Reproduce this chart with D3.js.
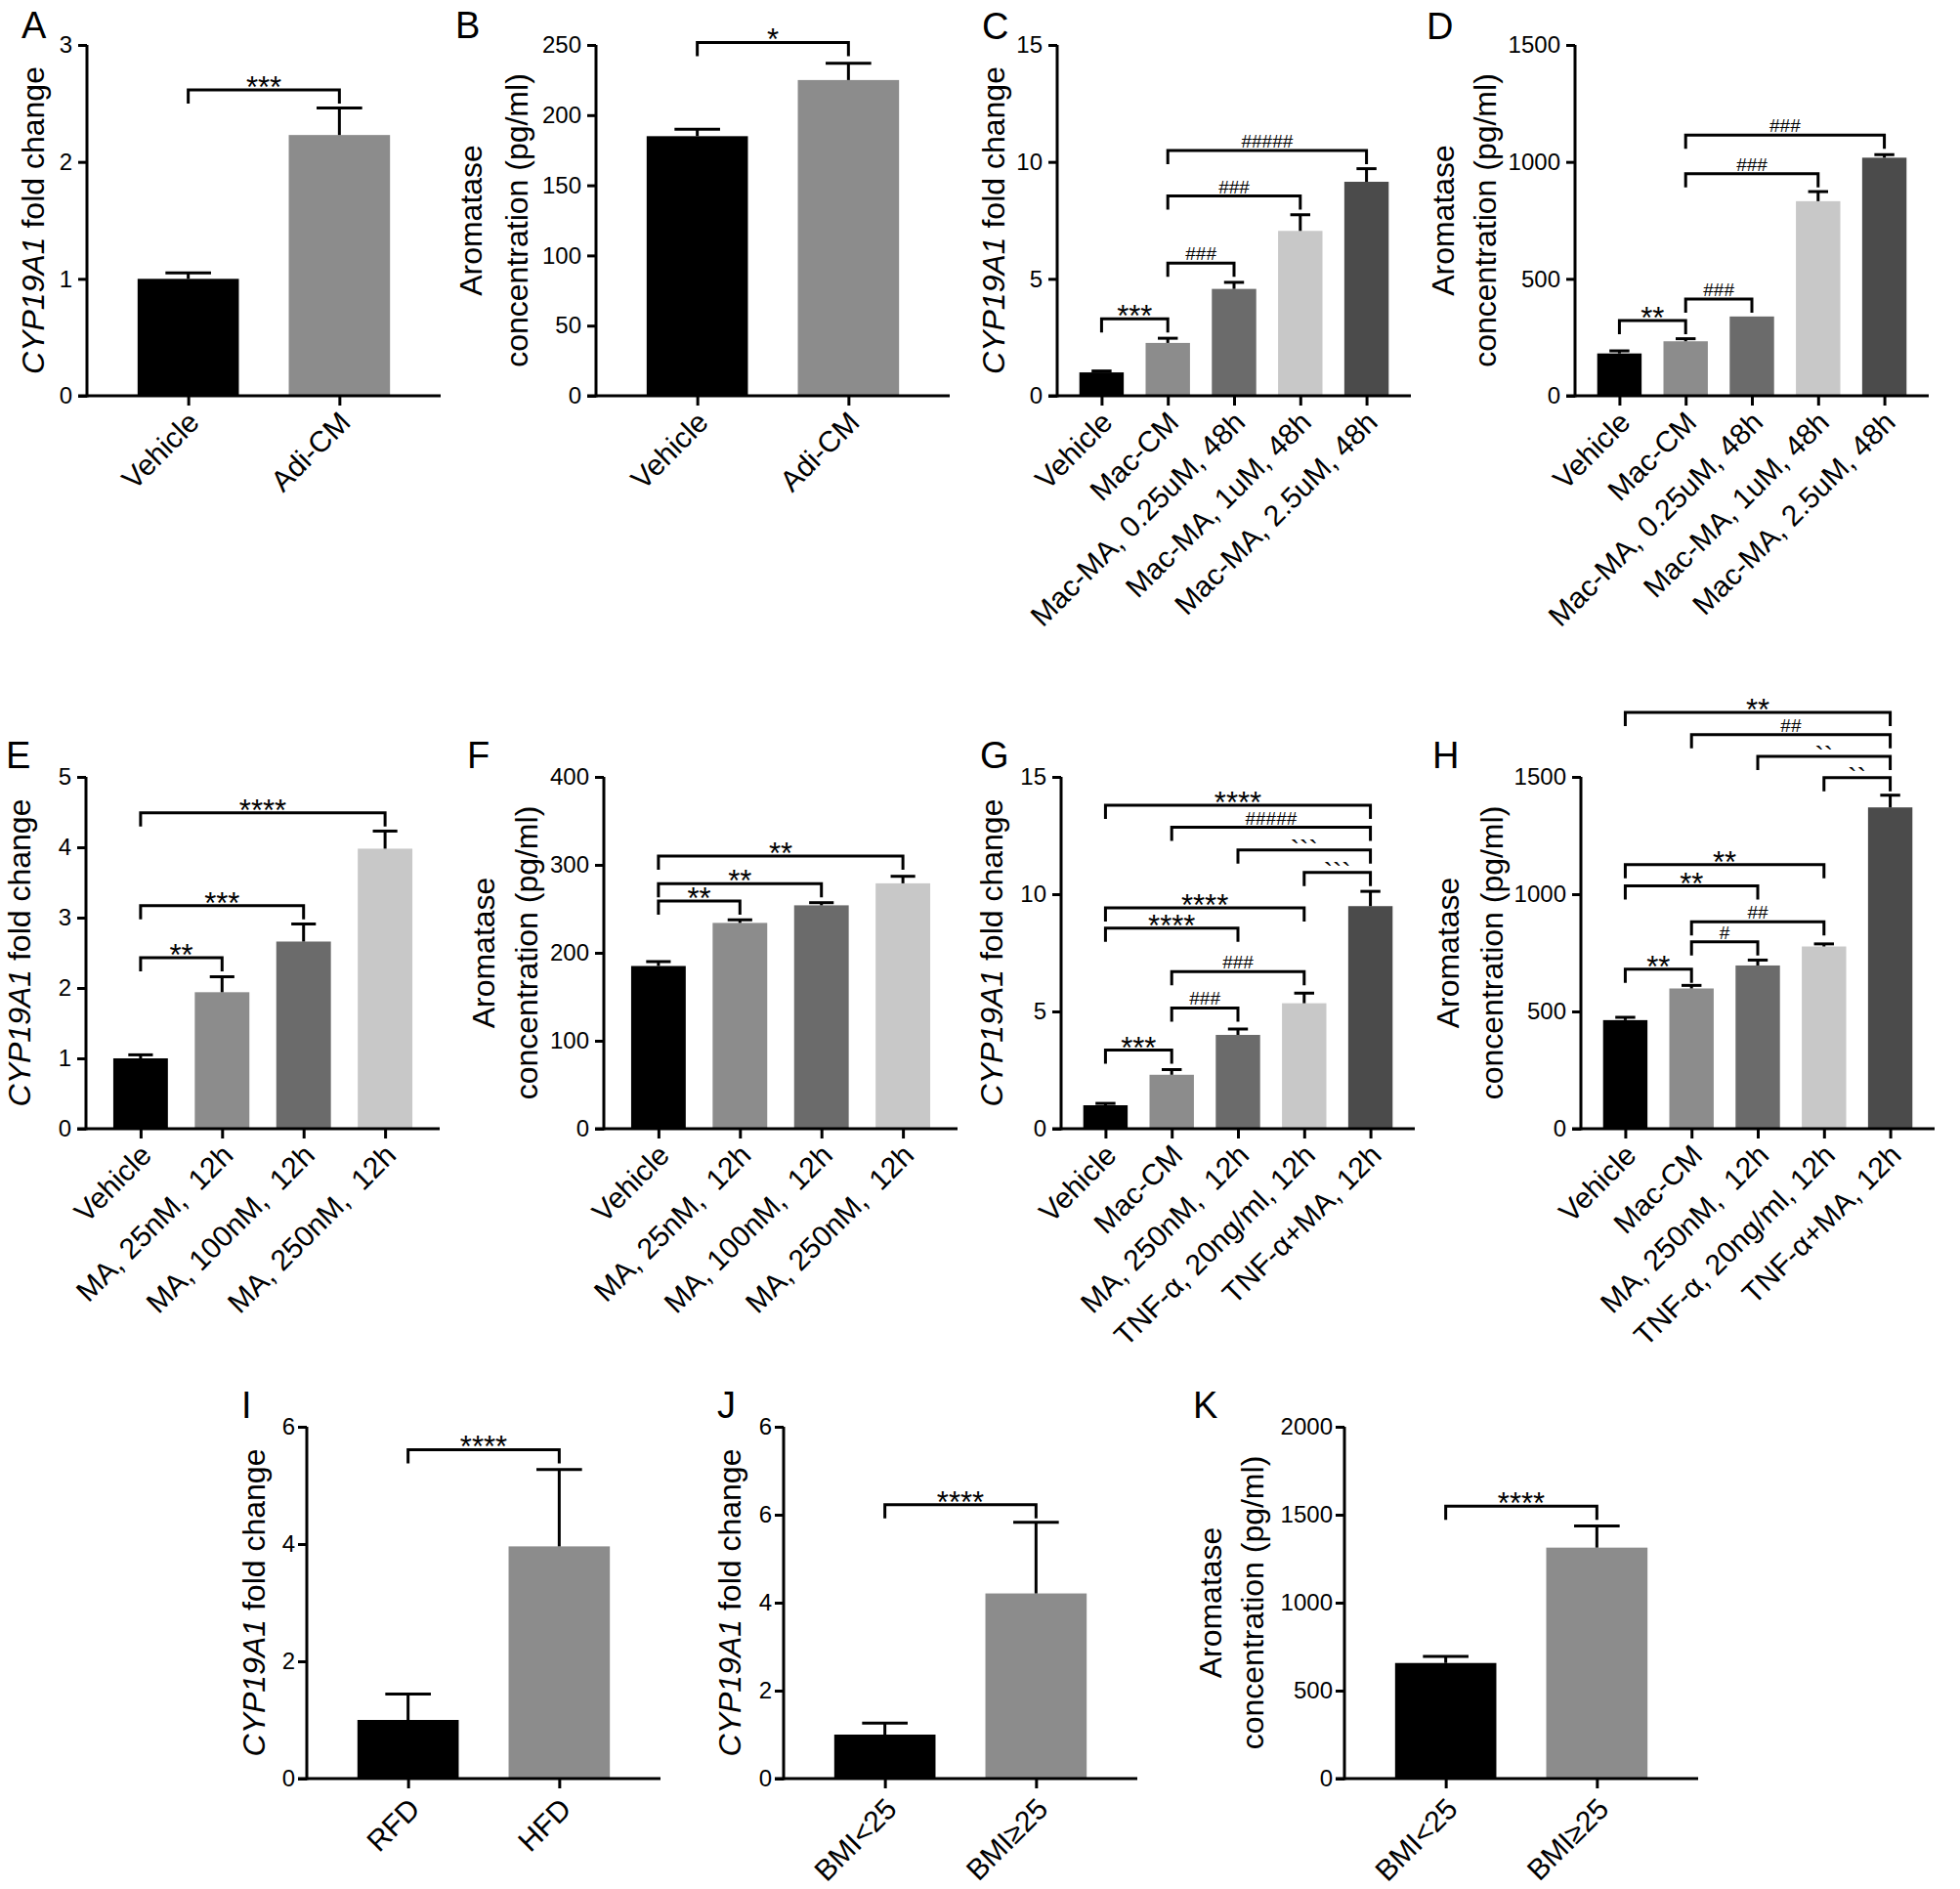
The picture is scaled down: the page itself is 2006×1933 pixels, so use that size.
<!DOCTYPE html>
<html>
<head>
<meta charset="utf-8">
<script src="https://cdn.jsdelivr.net/npm/d3@7"></script>
<style>
  body { margin: 0; background: #fff; }
  text { font-family: "Liberation Sans", Arial, sans-serif; }
</style>
</head>
<body>
<svg id="fig" width="2006" height="1933"></svg>
<script>
// ---- data ----
const catsAB = ["Vehicle", "Adi-CM"]
const valsA = [1.0, 2.23], sdA = [0.05, 0.23]
const valsB = [185, 225], sdB = [5, 12]

const catsCD = ["Vehicle", "Mac-CM", "Mac-MA, 0.25uM, 48h", "Mac-MA, 1uM, 48h", "Mac-MA, 2.5uM, 48h"]
const valsC = [1.0, 2.26, 4.57, 7.05, 9.15], sdC = [0.06, 0.2, 0.28, 0.69, 0.56]
const valsD = [181, 233, 339, 832, 1018], sdD = [11, 11, 0, 41, 13]

const catsEF = ["Vehicle", "MA, 25nM,  12h", "MA, 100nM,  12h", "MA, 250nM,  12h"]
const valsE = [1.0, 1.94, 2.66, 3.98], sdE = [0.05, 0.22, 0.25, 0.25]
const valsF = [185, 234, 254, 279], sdF = [5, 3.5, 3, 8]

const catsGH = ["Vehicle", "Mac-CM", "MA, 250nM,  12h", "TNF-α, 20ng/ml, 12h", "TNF-α+MA, 12h"]
const valsG = [1.0, 2.3, 4.0, 5.35, 9.49], sdG = [0.08, 0.22, 0.25, 0.43, 0.63]
const valsH = [463, 598, 696, 777, 1370], sdH = [12, 13, 23, 11, 52]

const catsI = ["RFD", "HFD"]
const valsI = [1.0, 3.96], sdI = [0.44, 1.31]
const catsJK = ["BMI<25", "BMI≥25"]
const valsJ = [1.0, 4.21], sdJ = [0.26, 1.62]
const valsK = [657, 1313], sdK = [38, 123]

// tick values and labels
const ticksA = [0, 1, 2, 3]
const ticksB = [0, 50, 100, 150, 200, 250]
const ticksC = [0, 5, 10, 15]
const ticksD = [0, 500, 1000, 1500]
const ticksE = [0, 1, 2, 3, 4, 5]
const ticksF = [0, 100, 200, 300, 400]
const ticksI = [0, 2, 4, 6]
const ticksJ = [0, 2, 4, 6, 8]
const tickLabelsJ = ["0", "2", "4", "6", "6"]
const ticksK = [0, 500, 1000, 1500, 2000]

// significance brackets: [from, to, height, label]
const brA = [[0, 1, 2.615, "***"]]
const brB = [[0, 1, 251.8, "*"]]
const brC = [[0, 1, 3.29, "***"], [1, 2, 5.67, "###"], [1, 3, 8.54, "###"], [1, 4, 10.49, "#####"]]
const brD = [[0, 1, 322, "**"], [1, 2, 414, "###"], [1, 3, 950, "###"], [1, 4, 1115, "###"]]
const brE = [[0, 1, 2.43, "**"], [0, 2, 3.17, "***"], [0, 3, 4.49, "****"]]
const brF = [[0, 1, 259, "**"], [0, 2, 278.6, "**"], [0, 3, 310, "**"]]
const brG = [[0, 1, 3.35, "***"], [1, 2, 5.15, "###"], [1, 3, 6.7, "###"], [0, 2, 8.55, "****"],
             [0, 3, 9.42, "****"], [3, 4, 10.93, "```"], [2, 4, 11.89, "```"], [1, 4, 12.85, "#####"], [0, 4, 13.79, "****"]]
const brH = [[0, 1, 680, "**"], [1, 2, 797, "#"], [1, 3, 882, "##"], [0, 2, 1035, "**"],
             [0, 3, 1126, "**"], [3, 4, 1497, "``"], [2, 4, 1588, "``"], [1, 4, 1680, "##"], [0, 4, 1775, "**"]]
const brI = [[0, 1, 5.61, "****"]]
const brJ = [[0, 1, 6.23, "****"]]
const brK = [[0, 1, 1549, "****"]]

const grays5 = ["#000000", "#8c8c8c", "#6b6b6b", "#c8c8c8", "#4b4b4b"]

const svg = d3.select("#fig")

const CYP = "cyp"
const ARO = "aro"

function drawPanel(p) {
  const g = svg.append("g")
  const w = 362
  const y = d3.scaleLinear().domain([0, d3.max(p.ticks)]).range([p.bottom, p.top])
  const x = d3.scalePoint().domain(p.cats).range([p.ax, p.ax + w]).padding(0.67)
  const bw = x.step() * 0.67
  const cap = bw * 0.45

  // bars
  g.selectAll("rect.bar").data(p.cats).join("rect")
    .attr("x", d => x(d) - bw / 2)
    .attr("y", (d, i) => y(p.vals[i]))
    .attr("width", bw)
    .attr("height", (d, i) => p.bottom - y(p.vals[i]))
    .attr("fill", (d, i) => grays5[i])

  // error bars (upper only)
  p.cats.forEach((c, i) => {
    if (!p.sd[i]) return
    const top = y(p.vals[i] + p.sd[i])
    g.append("line").attr("x1", x(c)).attr("x2", x(c))
      .attr("y1", y(p.vals[i])).attr("y2", top)
      .attr("stroke", "#000").attr("stroke-width", 3)
    g.append("line").attr("x1", x(c) - cap / 2).attr("x2", x(c) + cap / 2)
      .attr("y1", top).attr("y2", top)
      .attr("stroke", "#000").attr("stroke-width", 3)
  })

  // y axis
  const yAxis = d3.axisLeft(y).tickValues(p.ticks).tickSize(9).tickSizeOuter(0).tickPadding(p.tickPad)
    .tickFormat((d, i) => p.tickLabels ? p.tickLabels[i] : d)
  const ya = g.append("g").attr("transform", `translate(${p.ax},0)`).call(yAxis)
  ya.select(".domain").attr("stroke-width", 3).attr("d", `M0,${p.bottom + 1.5}V${p.top}`)
  ya.selectAll(".tick line").attr("stroke-width", 3)
  ya.selectAll(".tick text").attr("font-size", 24).attr("fill", "#000")
    .attr("font-family", "'Liberation Sans', Arial, sans-serif")

  // x axis
  const xAxis = d3.axisBottom(x).tickSize(10).tickSizeOuter(0).tickFormat("")
  const xa = g.append("g").attr("transform", `translate(0,${p.bottom})`).call(xAxis)
  xa.select(".domain").attr("stroke-width", 3).attr("d", `M${p.ax - 9},0H${p.ax + w}`)
  xa.selectAll(".tick line").attr("stroke-width", 3)

  // rotated category labels
  g.selectAll("text.xl").data(p.cats).join("text")
    .attr("class", "xl")
    .attr("transform", d => `translate(${x(d) + p.lx},${p.bottom + p.ly}) rotate(-45)`)
    .attr("text-anchor", "end")
    .attr("font-size", 30)
    .style("white-space", "pre")
    .text(d => d)

  // y label
  const cy = (p.top + p.bottom) / 2
  if (p.ylab === CYP) {
    const t = g.append("text")
      .attr("transform", `translate(${p.yl[0]},${cy}) rotate(-90)`)
      .attr("text-anchor", "middle").attr("font-size", 32)
    t.append("tspan").attr("font-style", "italic").text("CYP19A1")
    t.append("tspan").text(" fold change")
  } else {
    g.append("text")
      .attr("transform", `translate(${p.yl[0]},${cy}) rotate(-90)`)
      .attr("text-anchor", "middle").attr("font-size", 32).text("Aromatase")
    g.append("text")
      .attr("transform", `translate(${p.yl[1]},${cy}) rotate(-90)`)
      .attr("text-anchor", "middle").attr("font-size", 32).text("concentration (pg/ml)")
  }

  // panel letter
  g.append("text").attr("x", p.lt[0]).attr("y", p.lt[1])
    .attr("font-size", 38).text(p.letter)

  // brackets
  p.br.forEach(b => {
    const x1 = x(p.cats[b[0]]), x2 = x(p.cats[b[1]]), yy = y(b[2])
    g.append("path")
      .attr("d", `M${x1},${yy + 14}V${yy}H${x2}V${yy + 14}`)
      .attr("fill", "none").attr("stroke", "#000").attr("stroke-width", 3)
    const lab = b[3]
    const t = g.append("text").attr("x", (x1 + x2) / 2).attr("text-anchor", "middle").text(lab)
    if (lab[0] === "*") t.attr("y", yy + 8).attr("font-size", 31)
    else if (lab[0] === "#") t.attr("y", yy - 3).attr("font-size", 19)
    else t.attr("y", yy + 9).attr("font-size", 28)
  })
}

const row1 = { top: 46, bottom: 405, lx: 13, ly: 29, tickPad: 6 }
const row2 = { top: 795, bottom: 1155, lx: 13, ly: 29, tickPad: 6 }
const row3 = { top: 1460, bottom: 1820, lx: 14, ly: 33, tickPad: 3 }

drawPanel({ ...row1, ax: 89, cats: catsAB, vals: valsA, sd: sdA, ticks: ticksA, br: brA, ylab: CYP, yl: [45], letter: "A", lt: [22, 39] })
drawPanel({ ...row1, ax: 610, cats: catsAB, vals: valsB, sd: sdB, ticks: ticksB, br: brB, ylab: ARO, yl: [493, 540], letter: "B", lt: [466, 39] })
drawPanel({ ...row1, ax: 1082, cats: catsCD, vals: valsC, sd: sdC, ticks: ticksC, br: brC, ylab: CYP, yl: [1028], letter: "C", lt: [1005, 40] })
drawPanel({ ...row1, ax: 1612, cats: catsCD, vals: valsD, sd: sdD, ticks: ticksD, br: brD, ylab: ARO, yl: [1488, 1531], letter: "D", lt: [1460, 40] })

drawPanel({ ...row2, ax: 88, cats: catsEF, vals: valsE, sd: sdE, ticks: ticksE, br: brE, ylab: CYP, yl: [31], letter: "E", lt: [6, 786] })
drawPanel({ ...row2, ax: 618, cats: catsEF, vals: valsF, sd: sdF, ticks: ticksF, br: brF, ylab: ARO, yl: [506, 550], letter: "F", lt: [478, 786] })
drawPanel({ ...row2, ax: 1086, cats: catsGH, vals: valsG, sd: sdG, ticks: ticksC, br: brG, ylab: CYP, yl: [1026], letter: "G", lt: [1003, 786] })
drawPanel({ ...row2, ax: 1618, cats: catsGH, vals: valsH, sd: sdH, ticks: ticksD, br: brH, ylab: ARO, yl: [1493, 1538], letter: "H", lt: [1466, 786] })

drawPanel({ ...row3, ax: 314, cats: catsI, vals: valsI, sd: sdI, ticks: ticksI, br: brI, ylab: CYP, yl: [271], letter: "I", lt: [247, 1451] })
drawPanel({ ...row3, ax: 802, cats: catsJK, vals: valsJ, sd: sdJ, ticks: ticksJ, tickLabels: tickLabelsJ, br: brJ, ylab: CYP, yl: [758], letter: "J", lt: [734, 1451] })
drawPanel({ ...row3, ax: 1376, cats: catsJK, vals: valsK, sd: sdK, ticks: ticksK, br: brK, ylab: ARO, yl: [1250, 1293], letter: "K", lt: [1221, 1451] })
</script>
</body>
</html>
